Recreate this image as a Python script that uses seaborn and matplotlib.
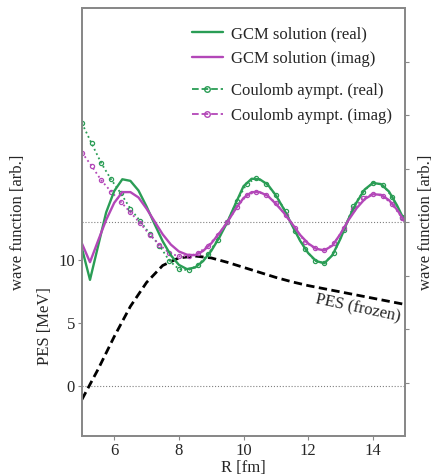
import numpy as np
import seaborn as sns
import matplotlib.pyplot as plt
from matplotlib.lines import Line2D

# GCM wave function (grid 0.25 fm)
r_gcm = [5.0, 5.25, 5.5, 5.75, 6.0, 6.25, 6.5, 6.75, 7.0, 7.25, 7.5, 7.75, 8.0, 8.25,
         8.5, 8.75, 9.0, 9.25, 9.5, 9.75, 10.0, 10.25, 10.5, 10.75, 11.0, 11.25, 11.5,
         11.75, 12.0, 12.25, 12.5, 12.75, 13.0, 13.25, 13.5, 13.75, 14.0, 14.25, 14.5,
         14.75, 15.0]
gcm_real = [-0.49, -1.08, -0.45, 0.18, 0.58, 0.80, 0.77, 0.59, 0.29, -0.04, -0.36, -0.62,
            -0.80, -0.88, -0.85, -0.73, -0.54, -0.29, 0.0, 0.34, 0.67, 0.81, 0.80, 0.70,
            0.50, 0.24, -0.06, -0.35, -0.58, -0.73, -0.77, -0.62, -0.31, 0.06, 0.37, 0.61,
            0.73, 0.71, 0.57, 0.31, 0.0]
gcm_imag = [-0.40, -0.75, -0.35, 0.04, 0.36, 0.56, 0.56, 0.46, 0.25, 0.01, -0.23, -0.42,
            -0.55, -0.61, -0.62, -0.54, -0.40, -0.21, 0.0, 0.24, 0.45, 0.56, 0.56, 0.49,
            0.34, 0.17, -0.03, -0.24, -0.40, -0.50, -0.53, -0.44, -0.22, 0.04, 0.26, 0.43,
            0.52, 0.51, 0.41, 0.23, 0.0]

# Coulomb asymptotics (grid 0.3 fm)
r_coul = [5.0, 5.3, 5.6, 5.9, 6.2, 6.5, 6.8, 7.1, 7.4, 7.7, 8.0, 8.3, 8.6, 8.9, 9.2, 9.5,
          9.8, 10.1, 10.4, 10.7, 11.0, 11.3, 11.6, 11.9, 12.2, 12.5, 12.8, 13.1, 13.4,
          13.7, 14.0, 14.3, 14.6, 14.9]
coul_real = [1.85, 1.47, 1.10, 0.80, 0.54, 0.25, 0.02, -0.22, -0.44, -0.72, -0.88, -0.90,
             -0.80, -0.60, -0.33, 0.0, 0.40, 0.72, 0.82, 0.72, 0.50, 0.20, -0.17, -0.50,
             -0.72, -0.77, -0.58, -0.15, 0.30, 0.57, 0.73, 0.70, 0.47, 0.10]
coul_imag = [1.30, 1.05, 0.78, 0.57, 0.38, 0.18, -0.02, -0.24, -0.42, -0.58, -0.64, -0.64,
             -0.58, -0.44, -0.25, 0.0, 0.28, 0.50, 0.57, 0.51, 0.36, 0.13, -0.12, -0.37,
             -0.49, -0.53, -0.40, -0.12, 0.24, 0.45, 0.53, 0.49, 0.33, 0.08]

# frozen PES [MeV]
r_pes = [5.0, 5.5, 6.0, 6.5, 7.0, 7.5, 8.0, 8.5, 9.0, 9.5, 10.0, 10.5, 11.0, 11.5, 12.0,
         12.5, 13.0, 13.5, 14.0, 14.5, 15.0]
pes = [-1.1, 1.3, 3.9, 6.3, 8.2, 9.55, 10.15, 10.3, 10.15, 9.8, 9.4, 9.0, 8.6, 8.25,
       7.95, 7.7, 7.45, 7.2, 6.95, 6.7, 6.45]

green = '#2a9d55'
magenta = '#b347b8'
fs = 12

sns.set_theme(style='white')
plt.rcParams['font.family'] = ['Liberation Serif', 'DejaVu Serif']
plt.rcParams['font.size'] = fs

fig = plt.figure(figsize=(4.38, 4.76), dpi=100)
ax = fig.add_axes([0.187, 0.084, 0.738, 0.899])
ax2 = ax.twinx()

# PES on left axis
ax.axhline(0, color='gray', lw=0.8, ls=':')
sns.lineplot(x=r_pes, y=pes, ax=ax, color='black', lw=2.0, linestyle=(0, (3, 1.6)))
ax.text(13.55, 6.1, 'PES (frozen)', rotation=-12, ha='center', va='center', fontsize=fs)

# wave functions on right axis
ax2.axhline(0, color='gray', lw=0.8, ls=':')
mk = dict(marker='o', markersize=3, markerfacecolor='none', markeredgewidth=0.9)
sns.lineplot(x=r_coul, y=coul_real, ax=ax2, color=green, lw=1.3, linestyle=':',
             markeredgecolor=green, **mk)
sns.lineplot(x=r_coul, y=coul_imag, ax=ax2, color=magenta, lw=1.3, linestyle=':',
             markeredgecolor=magenta, **mk)
sns.lineplot(x=r_gcm, y=gcm_real, ax=ax2, color=green, lw=1.7)
sns.lineplot(x=r_gcm, y=gcm_imag, ax=ax2, color=magenta, lw=1.7)

ax.set_xlim(5, 15)
ax.set_ylim(-4, 30)
ax2.set_ylim(-4, 4)
ax.set_xticks([6, 8, 10, 12, 14])
ax.set_yticks([0, 5, 10])
ax2.set_yticks([-3, -2, -1, 0, 1, 2, 3])
ax2.set_yticklabels([])

for a in (ax, ax2):
    for s in a.spines.values():
        s.set_color('#888888')
        s.set_linewidth(1.3)
    a.tick_params(direction='out', length=3, width=0.8, color='#888888',
                  labelsize=fs, pad=2)
    a.grid(False)
ax.tick_params(left=True, bottom=True)
ax2.tick_params(right=True)

ax.set_xlabel('R [fm]', fontsize=fs, labelpad=1)
ax.set_ylabel('PES [MeV]', fontsize=fs)
ax.yaxis.set_label_coords(-0.09, 0.257)
ax2.set_ylabel('wave function [arb.]', fontsize=fs)
ax2.yaxis.set_label_coords(1.04, 0.5)
fig.text(18 / 438, 0.534, 'wave function [arb.]', rotation=90, ha='center', va='center',
         fontsize=fs)

# legends
h1 = [Line2D([], [], color=green, lw=1.7), Line2D([], [], color=magenta, lw=1.7)]
h2 = [Line2D([], [], color=green, lw=1.3, ls='--', marker='o', markersize=4,
             markerfacecolor='none', markeredgecolor=green),
      Line2D([], [], color=magenta, lw=1.3, ls='--', marker='o', markersize=4,
             markerfacecolor='none', markeredgecolor=magenta)]
leg1 = ax2.legend(h1, ['GCM solution (real)', 'GCM solution (imag)'], loc='upper left',
                  bbox_to_anchor=(0.34, 0.958), frameon=False, borderpad=0,
                  borderaxespad=0, handlelength=1.85, handletextpad=0.5,
                  labelspacing=0.55, fontsize=fs)
ax2.add_artist(leg1)
ax2.legend(h2, ['Coulomb aympt. (real)', 'Coulomb aympt. (imag)'], loc='upper left',
           bbox_to_anchor=(0.34, 0.825), frameon=False, borderpad=0, borderaxespad=0,
           handlelength=1.85, handletextpad=0.5, labelspacing=0.55, fontsize=fs)

fig.savefig('out.png', dpi=100)
